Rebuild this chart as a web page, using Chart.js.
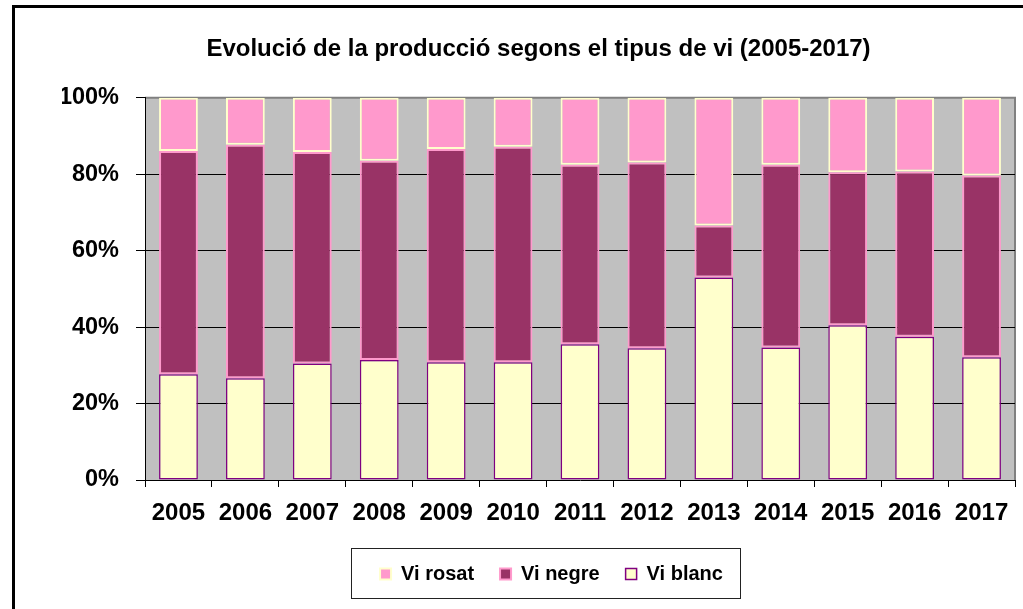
<!DOCTYPE html>
<html><head><meta charset="utf-8">
<script src="https://cdn.jsdelivr.net/npm/chart.js@4/dist/chart.umd.min.js"></script>
<style>html,body{margin:0;padding:0;background:#fff;overflow:hidden}</style>
</head><body>
<canvas id="c" width="1023" height="609"></canvas>
<script>
const years = ['2005','2006','2007','2008','2009','2010','2011','2012','2013','2014','2015','2016','2017'];
const viBlanc = [27.7, 26.6, 30.5, 31.4, 30.8, 30.8, 35.5, 34.5, 53.0, 34.7, 40.5, 37.5, 32.1];
const viNegre = [58.4, 61.1, 55.3, 52.1, 55.8, 56.4, 47.0, 48.6, 13.6, 47.8, 40.0, 43.2, 47.6];
const viRosat = [13.9, 12.3, 14.2, 16.5, 13.4, 12.8, 17.5, 16.9, 33.4, 17.5, 19.5, 19.3, 20.3];
const yTickValues = [0, 20, 40, 60, 80, 100];
const titleText = 'Evolució de la producció segons el tipus de vi (2005-2017)';

const FONT = "'Liberation Sans', Arial, sans-serif";

const decor = {
  id: 'decor',
  afterLayout(chart) {
    const lg = chart.legend;
    if (lg) { lg.left += 13; lg.right += 13; }
  },
  beforeDraw(chart) {
    const {ctx, chartArea: a} = chart;
    ctx.save();
    ctx.fillStyle = '#fff';
    ctx.fillRect(0, 0, chart.width, chart.height);
    ctx.fillStyle = '#C0C0C0';
    ctx.fillRect(a.left, a.top, a.right - a.left, a.bottom - a.top);
    ctx.strokeStyle = '#808080';
    ctx.lineWidth = 2;
    ctx.beginPath();
    ctx.moveTo(a.left, a.top);
    ctx.lineTo(a.right, a.top);
    ctx.lineTo(a.right, a.bottom);
    ctx.stroke();
    // outer frame
    ctx.fillStyle = '#000';
    ctx.fillRect(12, 5, chart.width, 3);
    ctx.fillRect(12, 5, 3, chart.height);
    ctx.restore();
  },
  afterDraw(chart) {
    const lg = chart.legend;
    if (!lg || !lg.legendHitBoxes.length) return;
    const hb = lg.legendHitBoxes;
    const left = Math.min(...hb.map(h => h.left)) - 29;
    const right = Math.max(...hb.map(h => h.left + h.width)) + 17;
    const top = hb[0].top - 16;
    const bottom = hb[0].top + hb[0].height + 14;
    const ctx = chart.ctx;
    ctx.save();
    ctx.strokeStyle = '#222';
    ctx.lineWidth = 1;
    ctx.strokeRect(Math.round(left) + 0.5, Math.round(top) + 0.5, Math.round(right - left), Math.round(bottom - top));
    ctx.restore();
  }
};

new Chart(document.getElementById('c'), {
  type: 'bar',
  data: {
    labels: years,
    datasets: [
      {label: 'Vi blanc', data: viBlanc, backgroundColor: '#FFFFCC', borderColor: '#800080', borderWidth: 1.5, borderSkipped: false},
      {label: 'Vi negre', data: viNegre, backgroundColor: '#993366', borderColor: '#FF99CC', borderWidth: 2, borderSkipped: false},
      {label: 'Vi rosat', data: viRosat, backgroundColor: '#FF99CC', borderColor: '#FFFFCC', borderWidth: 2, borderSkipped: false}
    ]
  },
  options: {
    responsive: false,
    animation: false,
    layout: {padding: {top: 30, left: 62, right: 8, bottom: 15}},
    datasets: {bar: {categoryPercentage: 1, barPercentage: 0.58}},
    scales: {
      x: {
        stacked: true,
        grid: {display: true, drawOnChartArea: false, drawTicks: true, tickLength: 7, offset: true, color: '#000', tickColor: '#000'},
        border: {display: true, color: '#000', width: 1},
        ticks: {color: '#000', font: {family: FONT, size: 24, weight: 'bold'}, padding: 12, maxRotation: 0, autoSkip: false},
        afterFit(s) { s.height = 58; }
      },
      y: {
        stacked: true,
        min: 0, max: 100,
        afterBuildTicks(s) { s.ticks = yTickValues.map(v => ({value: v})); },
        grid: {
          drawTicks: true, tickLength: 9,
          color: (c) => (c.tick && (c.tick.value === 0 || c.tick.value === 100)) ? 'rgba(0,0,0,0)' : '#000',
          tickColor: '#000'
        },
        border: {display: true, color: '#000', width: 1},
        ticks: {color: '#000', font: {family: FONT, size: 23.5, weight: 'bold'}, padding: 17, callback: v => v + '%'},
        afterFit(s) { s.width = 83; }
      }
    },
    plugins: {
      title: {display: true, text: titleText, color: '#000', font: {family: FONT, size: 24, weight: 'bold'}, padding: {top: 5, bottom: 34}},
      legend: {
        display: true, position: 'bottom', reverse: true,
        labels: {color: '#000', font: {family: FONT, size: 20, weight: 'bold'}, boxWidth: 11, boxHeight: 11, padding: 26}
      },
      tooltip: {enabled: false}
    }
  },
  plugins: [decor]
});
</script>
</body></html>
